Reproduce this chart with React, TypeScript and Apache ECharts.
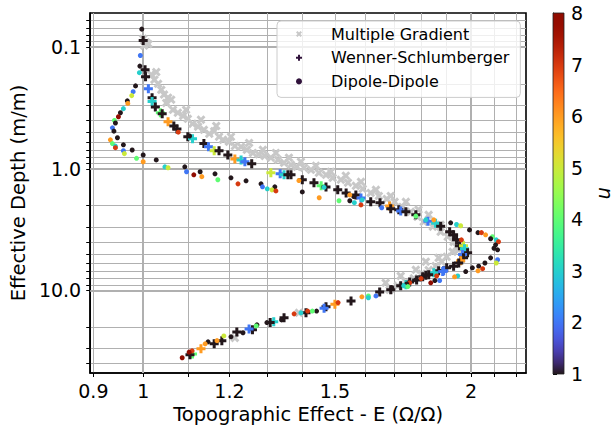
import React, { useEffect, useRef } from "react";
import * as echarts from "echarts";

// Multiple Gradient: [topographic effect E, effective depth]
const gradientPoints: [number, number][] = [
  [1.0, 0.085], [1.011, 0.094], [1.002, 0.097], [1.006, 0.091],
  [1.017, 0.168], [1.028, 0.16], [1.024, 0.185], [1.032, 0.2], [1.039, 0.224],
  [1.045, 0.245], [1.054, 0.26], [1.061, 0.27], [1.05, 0.287], [1.065, 0.327],
  [1.095, 0.327], [1.076, 0.346], [1.088, 0.367], [1.099, 0.388], [1.13, 0.395],
  [1.11, 0.426], [1.167, 0.444], [1.123, 0.45], [1.137, 0.478], [1.162, 0.49],
  [1.15, 0.515], [1.174, 0.545], [1.204, 0.545], [1.184, 0.578], [1.199, 0.6],
  [1.251, 0.613], [1.214, 0.649], [1.23, 0.66], [1.245, 0.698], [1.288, 0.698],
  [1.261, 0.74], [1.324, 0.74], [1.277, 0.76], [1.293, 0.784], [1.31, 0.81],
  [1.361, 0.81], [1.33, 0.843], [1.396, 0.875], [1.347, 0.893], [1.367, 0.927],
  [1.441, 0.945], [1.384, 0.963], [1.405, 0.98], [1.426, 1.02], [1.487, 1.058],
  [1.45, 1.08], [1.472, 1.12], [1.535, 1.14], [1.493, 1.186], [1.519, 1.23],
  [1.585, 1.28], [1.542, 1.3], [1.568, 1.38], [1.591, 1.46], [1.636, 1.49],
  [1.618, 1.58], [1.646, 1.67], [1.688, 1.67], [1.674, 1.77], [1.702, 1.87],
  [1.743, 1.87], [1.73, 2.06], [1.79, 2.17], [1.761, 2.26], [1.829, 2.39],
  [1.786, 2.48], [1.81, 2.73], [1.876, 2.89], [1.845, 2.99], [1.876, 3.3],
  [1.916, 3.49], [1.904, 3.62], [1.928, 3.99], [1.957, 4.14], [1.94, 4.38],
  [1.949, 4.64], [1.924, 4.82], [1.9, 5.3], [1.868, 5.4], [1.818, 5.8],
  [1.88, 5.82], [1.856, 6.3], [1.78, 6.78], [1.829, 6.8], [1.802, 7.3],
  [1.724, 7.6], [1.772, 7.95], [1.743, 8.5], [1.67, 8.66], [1.713, 9.17],
  [1.684, 9.9], [1.39, 15.3], [1.214, 24.6],
];

// Wenner-Schlumberger: [E, effective depth, n]
const wennerPoints: [number, number, number][] = [
  [1.0, 0.088, 1], [1.004, 0.153, 1], [1.005, 0.175, 1], [1.011, 0.22, 2],
  [1.019, 0.26, 1], [1.019, 0.28, 3], [1.026, 0.31, 1], [1.037, 0.346, 4],
  [1.041, 0.352, 1], [1.054, 0.41, 6], [1.067, 0.444, 1], [1.074, 0.47, 1],
  [1.099, 0.545, 1], [1.11, 0.565, 3], [1.137, 0.62, 1], [1.148, 0.66, 2],
  [1.162, 0.71, 5], [1.174, 0.71, 1], [1.196, 0.77, 1], [1.214, 0.83, 6],
  [1.23, 0.845, 3], [1.24, 0.875, 2], [1.258, 0.91, 1], [1.31, 1.08, 5],
  [1.336, 1.1, 2], [1.347, 1.12, 3], [1.358, 1.12, 1], [1.367, 1.12, 1],
  [1.4, 1.23, 1], [1.435, 1.3, 1], [1.457, 1.38, 4], [1.472, 1.41, 1],
  [1.509, 1.49, 1], [1.536, 1.58, 1], [1.568, 1.64, 1], [1.585, 1.74, 2],
  [1.618, 1.87, 1], [1.65, 1.9, 1], [1.684, 2.02, 6], [1.688, 2.13, 1],
  [1.717, 2.17, 1], [1.724, 2.22, 2], [1.743, 2.26, 1], [1.78, 2.39, 1],
  [1.826, 2.7, 2], [1.856, 2.8, 3], [1.876, 2.97, 1], [1.912, 3.3, 1],
  [1.928, 3.49, 1], [1.94, 3.84, 1], [1.952, 4.3, 1], [1.969, 4.3, 5],
  [1.973, 4.55, 3], [1.986, 4.91, 1], [1.965, 5.06, 2], [1.969, 5.4, 1],
  [1.957, 5.7, 6], [1.949, 5.95, 1], [1.928, 6.32, 1], [1.9, 6.52, 1],
  [1.888, 6.9, 2], [1.868, 6.9, 1], [1.849, 7.15, 3], [1.829, 7.45, 1],
  [1.806, 7.73, 1], [1.818, 7.5, 1], [1.884, 7.0, 2], [1.783, 8.2, 1],
  [1.757, 8.55, 1], [1.743, 9.0, 3], [1.724, 9.17, 1], [1.688, 9.9, 1],
  [1.649, 10.3, 1], [1.552, 12.2, 1], [1.5, 13.0, 6], [1.472, 13.6, 1],
  [1.466, 14.0, 2], [1.411, 15.3, 1], [1.347, 16.8, 1], [1.318, 18.1, 3],
  [1.308, 18.4, 1], [1.26, 21.1, 1], [1.251, 20.8, 2], [1.219, 22.0, 1],
  [1.181, 26.0, 1], [1.162, 27.5, 1], [1.13, 30.2, 6], [1.11, 33.3, 4],
  [1.104, 33.8, 1],
];

// Dipole-Dipole: [E, effective depth, n]
const dipolePoints: [number, number, number][] = [
  [0.997, 0.071, 1], [0.994, 0.117, 2], [0.993, 0.143, 1], [0.992, 0.162, 3],
  [0.984, 0.208, 1], [0.979, 0.232, 2], [0.976, 0.25, 5], [0.967, 0.276, 1],
  [0.968, 0.29, 6], [0.959, 0.32, 3], [0.953, 0.346, 1], [0.949, 0.373, 8],
  [0.941, 0.4, 4], [0.943, 0.42, 1], [0.937, 0.46, 2], [0.94, 0.49, 1],
  [0.947, 0.555, 1], [0.933, 0.578, 6], [0.937, 0.62, 4], [0.943, 0.65, 3],
  [0.943, 0.67, 7], [0.959, 0.635, 1], [0.977, 0.7, 1], [0.959, 0.71, 2],
  [0.961, 0.75, 5], [1.0, 0.77, 1], [0.986, 0.82, 4], [1.028, 0.845, 1],
  [1.0, 0.875, 6], [1.047, 0.963, 3], [1.054, 0.98, 5], [1.092, 0.963, 1],
  [1.096, 1.058, 2], [1.128, 1.058, 1], [1.113, 1.12, 8], [1.132, 1.16, 6],
  [1.164, 1.1, 1], [1.204, 1.186, 1], [1.171, 1.23, 4], [1.243, 1.255, 1],
  [1.222, 1.33, 7], [1.283, 1.33, 1], [1.321, 1.406, 1], [1.287, 1.406, 2],
  [1.3, 1.46, 3], [1.313, 1.49, 5], [1.324, 1.52, 7], [1.4, 1.55, 1],
  [1.451, 1.73, 6], [1.513, 1.83, 4], [1.548, 1.83, 1], [1.563, 1.9, 3],
  [1.585, 1.98, 7], [1.656, 2.09, 2],
  [1.077, 0.5, 7], [1.103, 0.537, 1], [1.39, 1.25, 6], [1.466, 1.42, 3],
  [1.561, 1.69, 1], [1.548, 1.64, 6], [1.589, 1.8, 3], [1.78, 2.45, 4],
  [1.818, 2.63, 3], [1.849, 2.63, 6],
  [1.916, 2.78, 1], [1.94, 2.87, 3], [1.957, 2.94, 5], [1.994, 3.18, 1],
  [2.03, 3.35, 1], [2.045, 3.35, 7], [2.063, 3.49, 6], [2.093, 3.62, 4],
  [2.085, 3.76, 1], [2.11, 3.84, 3], [2.12, 3.98, 7], [1.96, 3.84, 7],
  [2.107, 4.22, 1], [2.1, 4.5, 1], [2.116, 4.64, 1], [2.085, 5.4, 1],
  [2.116, 5.6, 2], [2.11, 5.95, 5], [2.06, 5.95, 1], [2.033, 6.32, 1],
  [2.006, 6.52, 1], [2.05, 6.63, 7], [2.03, 6.9, 6], [1.978, 7.0, 1],
  [1.945, 7.6, 3], [1.932, 7.73, 6], [1.86, 7.6, 7], [1.872, 8.3, 2],
  [1.853, 8.3, 1], [1.837, 8.66, 8], [1.8, 8.0, 7], [1.78, 8.2, 1],
  [1.757, 8.66, 7], [1.746, 8.85, 1], [1.735, 9.17, 3], [1.75, 9.3, 4],
  [1.692, 9.5, 1],
  [1.636, 11.1, 2], [1.61, 11.1, 4], [1.61, 11.5, 3], [1.588, 11.3, 6],
  [1.51, 12.6, 7], [1.443, 14.8, 1], [1.43, 14.8, 4], [1.416, 14.8, 7],
  [1.396, 15.3, 3], [1.376, 15.6, 7], [1.34, 17.5, 1], [1.299, 18.4, 1],
  [1.272, 19.2, 1], [1.27, 19.6, 4], [1.235, 22.3, 1], [1.204, 24.1, 1],
  [1.186, 23.7, 5], [1.169, 25.9, 6], [1.147, 26.5, 1], [1.14, 27.5, 6],
  [1.109, 31.4, 7], [1.102, 32.2, 8], [1.086, 35.8, 8],
];

// Axis ranges and ticks
const eRange = [0.894, 2.247];
const depthRange = [0.0523, 47.8];
const eLabelTicks = [0.9, 1, 1.2, 1.5, 2];
const eAllTicks = [0.9, 1, 1.1, 1.2, 1.3, 1.4, 1.5, 1.6, 1.7, 1.8, 1.9, 2, 2.1, 2.2];
const eMajorLines = [1, 2];
const depthLabelTicks = [0.1, 1, 10];
const depthAllTicks = [
  0.06, 0.07, 0.08, 0.09, 0.1, 0.2, 0.3, 0.4, 0.5, 0.6, 0.7, 0.8, 0.9,
  1, 2, 3, 4, 5, 6, 7, 8, 9, 10, 20, 30, 40,
];
const nRange = [1, 8];

const FONT = "DejaVu Sans";
const GRID_COLOR = "#b0b0b0";
const PLUS_PATH = "path://M2,0H4V2H6V4H4V6H2V4H0V2H2Z";
const X_PATH =
  "path://M0,1.4L1.4,0L3,1.6L4.6,0L6,1.4L4.4,3L6,4.6L4.6,6L3,4.4L1.4,6L0,4.6L1.6,3Z";

// Turbo colormap (polynomial approximation)
function turbo(t: number): string {
  const x = Math.max(0, Math.min(1, t));
  const r = 34.61 + x * (1172.33 - x * (10793.56 - x * (33300.12 - x * (38394.49 - x * 14825.05))));
  const g = 23.31 + x * (557.33 + x * (1225.33 - x * (3574.96 - x * (1073.77 + x * 707.56))));
  const b = 27.2 + x * (3211.1 - x * (15327.97 - x * (27814 - x * (22569.18 - x * 6838.66))));
  const c = (v: number) => Math.max(0, Math.min(255, Math.round(v)));
  return `rgb(${c(r)},${c(g)},${c(b)})`;
}

const turboColors = Array.from({ length: 33 }, (_, i) => turbo(i / 32));

export default function App() {
  const ref = useRef<HTMLDivElement>(null);

  useEffect(() => {
    if (!ref.current) return;
    const chart = echarts.init(ref.current, null, { renderer: "svg" });

    const fmtE = (v: number) => {
      const t = eLabelTicks.find((k) => Math.abs(k - v) < 1e-6);
      return t === undefined ? "" : String(t);
    };
    const fmtDepth = (v: number) => Number(v).toFixed(1);

    const barStops = turboColors
      .map((c, i) => ({ offset: 1 - i / (turboColors.length - 1), color: c }))
      .reverse();

    const tickLabel = { fontSize: 19, color: "#000", fontFamily: FONT };
    const titleText = { fontSize: 19.5, color: "#000", fontFamily: FONT };

    chart.setOption({
      animation: false,
      backgroundColor: "#ffffff",
      textStyle: { fontFamily: FONT },
      grid: [
        { left: 89, top: 13, width: 437, height: 360, show: true, borderColor: "#000", borderWidth: 1.6, backgroundColor: "transparent" },
        { left: 553, top: 13, width: 19, height: 361, show: false },
      ],
      xAxis: [
        {
          type: "log",
          gridIndex: 0,
          logBase: 10,
          min: eRange[0],
          max: eRange[1],
          name: "Topographic Effect - E (Ω/Ω)",
          nameLocation: "middle",
          nameGap: 31,
          nameTextStyle: titleText,
          axisLine: { show: true, onZero: false, lineStyle: { color: "#000", width: 1.6 } },
          axisTick: { show: true, inside: false, length: 4, customValues: eAllTicks, lineStyle: { color: "#000", width: 1 } },
          axisLabel: { show: true, customValues: eLabelTicks, margin: 8, formatter: fmtE, ...tickLabel },
          splitLine: { show: true, lineStyle: { color: GRID_COLOR, width: 1 } },
          minorTick: { show: false },
          minorSplitLine: { show: false },
        },
        { type: "value", gridIndex: 1, min: 0, max: 1, show: false },
      ],
      yAxis: [
        {
          type: "log",
          gridIndex: 0,
          logBase: 10,
          inverse: true,
          min: depthRange[0],
          max: depthRange[1],
          name: "Effective Depth (m/m)",
          nameLocation: "middle",
          nameGap: 57,
          nameRotate: 90,
          nameTextStyle: titleText,
          axisLine: { show: true, onZero: false, lineStyle: { color: "#000", width: 1.6 } },
          axisTick: { show: true, inside: false, length: 4, customValues: depthAllTicks, lineStyle: { color: "#000", width: 1 } },
          axisLabel: { show: true, customValues: depthLabelTicks, margin: 9, formatter: fmtDepth, ...tickLabel },
          splitLine: { show: true, lineStyle: { color: GRID_COLOR, width: 1 } },
          minorTick: { show: false },
          minorSplitLine: { show: false },
        },
        {
          type: "value",
          gridIndex: 1,
          min: nRange[0],
          max: nRange[1],
          interval: 1,
          position: "right",
          name: "n",
          nameLocation: "middle",
          nameGap: 31,
          nameRotate: -90,
          nameTextStyle: { ...titleText, fontStyle: "italic" },
          axisLine: { show: true, lineStyle: { color: "#000", width: 1 } },
          axisTick: { show: true, inside: false, length: 4, lineStyle: { color: "#000", width: 1 } },
          axisLabel: { show: true, margin: 7, ...tickLabel },
          splitLine: { show: false },
        },
      ],
      legend: {
        show: true,
        orient: "vertical",
        left: 277,
        top: 21,
        padding: [5, 11, 8, 19],
        itemWidth: 6,
        itemHeight: 6,
        itemGap: 7.7,
        backgroundColor: "rgba(255,255,255,0.8)",
        borderColor: "#cccccc",
        borderWidth: 1,
        borderRadius: 4,
        textStyle: { fontSize: 16, color: "#000", fontFamily: FONT, lineHeight: 16, padding: [0, 0, 0, 24] },
        data: [
          { name: "Multiple Gradient", icon: X_PATH, itemStyle: { color: "#c8c8c8", opacity: 1 } },
          { name: "Wenner-Schlumberger", icon: PLUS_PATH, itemStyle: { color: "#30123b", opacity: 1 } },
          { name: "Dipole-Dipole", icon: "circle", itemStyle: { color: "#30123b", opacity: 1 } },
        ],
      },
      visualMap: {
        type: "continuous",
        show: false,
        min: nRange[0],
        max: nRange[1],
        dimension: 2,
        seriesIndex: [1, 2],
        inRange: { color: turboColors },
      },
      series: [
        {
          name: "Multiple Gradient",
          type: "scatter",
          xAxisIndex: 0,
          yAxisIndex: 0,
          symbol: X_PATH,
          symbolSize: 9,
          itemStyle: { color: "#c8c8c8", opacity: 1 },
          data: gradientPoints,
          markLine: {
            silent: true,
            z: 1,
            symbol: ["none", "none"],
            label: { show: false },
            lineStyle: { color: GRID_COLOR, width: 2, type: "solid", opacity: 1 },
            data: [
              ...eMajorLines.map((v) => ({ xAxis: v })),
              ...depthLabelTicks.map((v) => ({ yAxis: v })),
            ],
          },
        },
        {
          name: "Wenner-Schlumberger",
          type: "scatter",
          xAxisIndex: 0,
          yAxisIndex: 0,
          symbol: PLUS_PATH,
          symbolSize: 9,
          itemStyle: { color: "#30123b", opacity: 1 },
          data: wennerPoints,
        },
        {
          name: "Dipole-Dipole",
          type: "scatter",
          xAxisIndex: 0,
          yAxisIndex: 0,
          symbol: "circle",
          symbolSize: 5,
          itemStyle: { color: "#30123b", opacity: 1 },
          data: dipolePoints,
        },
        {
          type: "custom",
          xAxisIndex: 1,
          yAxisIndex: 1,
          silent: true,
          data: [[0, nRange[0]]],
          renderItem: (_params: any, api: any) => {
            const top = api.coord([0, nRange[1]]);
            const bottom = api.coord([1, nRange[0]]);
            return {
              type: "rect",
              shape: { x: top[0], y: top[1], width: bottom[0] - top[0], height: bottom[1] - top[1] },
              style: {
                fill: new echarts.graphic.LinearGradient(0, 0, 0, 1, barStops),
                stroke: "#222",
                lineWidth: 0.8,
              },
            };
          },
        },
      ],
    });

    return () => chart.dispose();
  }, []);

  return (
    <div
      ref={ref}
      style={{ position: "fixed", left: 0, top: 0, width: 616, height: 431, background: "#fff" }}
    />
  );
}
